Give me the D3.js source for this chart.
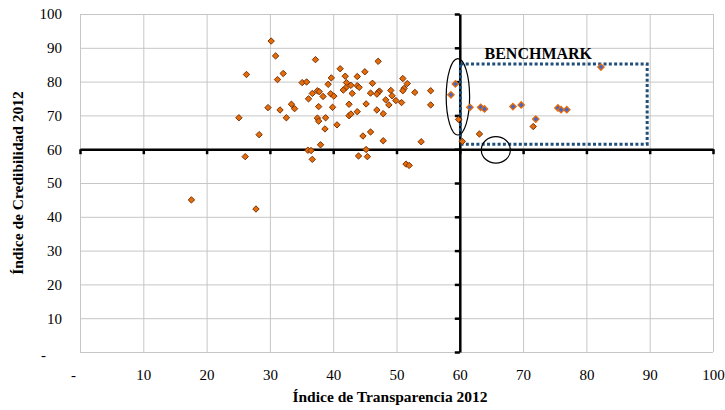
<!DOCTYPE html>
<html>
<head>
<meta charset="utf-8">
<script src="https://cdn.jsdelivr.net/npm/d3@7"></script>
<style>
  body { margin: 0; background: #fff; }
  text { font-family: "Liberation Serif", "DejaVu Serif", serif; fill: #000; }
  .grid line { stroke: #c6c6c6; stroke-width: 1; }
  .grid path { display: none; }
</style>
</head>
<body>
<div id="chart"></div>
<script>
// Indice de Transparencia (x) / Indice de Credibilidad (y), 2012
var transp = [30.2, 30.9, 26.3, 32.1, 31.2, 35.1, 35.8, 36.1, 33.4, 33.9, 29.7, 31.6, 32.6, 25.1, 28.3, 26.1, 36.0, 17.6, 27.8,
  37.2, 47.1, 41.1, 45.0, 41.9, 43.8, 39.7, 51.0, 42.1, 39.2, 42.8, 43.8, 44.1, 46.2, 51.7, 42.0, 41.6, 51.2, 51.0, 49.1,
  55.4, 47.3, 47.1, 46.9, 37.5, 37.8, 36.7, 43.0, 45.9, 52.9, 39.6, 40.1, 38.4, 49.3, 48.3, 49.9, 50.8, 55.4, 42.5, 45.2,
  48.8, 37.7, 39.9, 46.9, 43.8, 42.5, 42.8, 47.9, 37.5, 37.7, 38.8, 40.6, 38.7, 45.9, 44.7, 47.9, 53.9, 38.0, 36.5, 45.2,
  44.0, 45.4, 36.7, 51.5, 52.0, 59.8, 60.4, 63.1, 71.6];
var credib = [92.0, 87.6, 82.1, 82.4, 80.6, 79.7, 79.9, 74.9, 73.3, 72.0, 72.3, 71.6, 69.3, 69.3, 64.3, 57.8, 59.7, 45.0, 42.3,
  86.5, 86.0, 83.8, 82.9, 81.6, 81.5, 81.1, 80.9, 79.7, 79.2, 78.9, 78.8, 78.3, 79.5, 79.4, 78.2, 77.5, 78.0, 77.3, 77.4,
  77.3, 77.2, 76.8, 76.3, 77.3, 77.0, 76.5, 76.5, 76.6, 76.8, 76.4, 75.7, 75.6, 75.8, 74.6, 74.4, 73.8, 73.1, 73.3, 73.4,
  73.1, 72.6, 72.4, 71.6, 71.1, 69.9, 70.4, 70.5, 69.2, 68.3, 69.3, 67.2, 66.0, 65.1, 63.9, 62.5, 62.2, 61.3, 59.6, 59.9,
  58.0, 57.8, 57.0, 55.6, 55.2, 68.8, 62.3, 64.5, 66.7];

// benchmark group
var benchTransp = [59.3, 58.6, 61.6, 63.3, 63.9, 68.4, 69.7, 72.0, 75.5, 76.0, 76.9, 82.3];
var benchCredib = [79.3, 76.1, 72.4, 72.4, 71.9, 72.6, 73.1, 68.9, 72.2, 71.7, 71.7, 84.3];

var ticks = [0, 10, 20, 30, 40, 50, 60, 70, 80, 90, 100];
var benchBox = [60.1, 61.5, 89.6, 85.2];   // x0, y0, x1, y1
var ovals = [[59.7, 75.5, 1.85, 11.3], [65.7, 59.8, 2.3, 3.9]];  // cx, cy, rx, ry

var svgWidth = 725, svgHeight = 410,
    margin = { top: 14, right: 12, bottom: 58, left: 80 },
    width = svgWidth - margin.left - margin.right,
    height = svgHeight - margin.top - margin.bottom;

var svg = d3.select("#chart").append("svg")
    .attr("width", svgWidth)
    .attr("height", svgHeight)
    .append("g")
    .attr("transform", "translate(" + margin.left + "," + margin.top + ")");

var x = d3.scaleLinear().domain([0, 100]).range([0, width]);
var y = d3.scaleLinear().domain([0, 100]).range([height, 0]);
var fmt = function(d) { return d === 0 ? "-" : d; };

// gridlines
svg.append("g").attr("class", "grid")
    .attr("transform", "translate(0," + height + ")")
    .call(d3.axisBottom(x).tickValues(ticks).tickSize(-height).tickFormat(""));
svg.append("g").attr("class", "grid")
    .call(d3.axisLeft(y).tickValues(ticks).tickSize(-width).tickFormat(""));

// tick labels along the plot edges
var xl = svg.append("g")
    .attr("transform", "translate(0," + height + ")")
    .call(d3.axisBottom(x).tickValues(ticks).tickSize(0).tickPadding(17).tickFormat(fmt));
xl.select(".domain").remove();
xl.selectAll("text").attr("font-size", 15).style("font-family", "Liberation Serif")
    .attr("dx", function(d) { return d === 0 ? -7 : 0; });

var yl = svg.append("g")
    .call(d3.axisLeft(y).tickValues(ticks).tickSize(0).tickPadding(18).tickFormat(fmt));
yl.select(".domain").remove();
yl.selectAll("text").attr("font-size", 15).style("font-family", "Liberation Serif")
    .attr("dx", function(d) { return d === 0 ? -16 : 0; })
    .attr("dy", function(d) { return d === 0 ? "0.5em" : "0.32em"; });

// crossing axes at 60 / 60
var ax = svg.append("g")
    .attr("transform", "translate(0," + y(60) + ")")
    .call(d3.axisBottom(x).tickValues(ticks).tickSizeInner(5).tickSizeOuter(0).tickFormat(""));
var ay = svg.append("g")
    .attr("transform", "translate(" + x(60) + ",0)")
    .call(d3.axisLeft(y).tickValues(ticks).tickSizeInner(5).tickSizeOuter(0).tickFormat(""));
[ax, ay].forEach(function(g) {
    g.select(".domain").attr("stroke", "#000").attr("stroke-width", 2.5);
    g.selectAll(".tick line").attr("stroke", "#000").attr("stroke-width", 2.5);
});

// benchmark box
svg.append("rect")
    .attr("x", x(benchBox[0]))
    .attr("y", y(benchBox[3]))
    .attr("width", x(benchBox[2]) - x(benchBox[0]))
    .attr("height", y(benchBox[1]) - y(benchBox[3]))
    .attr("fill", "none")
    .attr("stroke", "#1f4e79")
    .attr("stroke-width", 3)
    .attr("stroke-dasharray", "3 2.3");

svg.append("text")
    .attr("x", x(72.4))
    .attr("y", y(86.6))
    .attr("text-anchor", "middle")
    .attr("font-size", 16)
    .attr("font-weight", "bold")
    .text("BENCHMARK");

svg.selectAll(".oval")
    .data(ovals)
    .enter().append("ellipse")
    .attr("cx", function(d) { return x(d[0]); })
    .attr("cy", function(d) { return y(d[1]); })
    .attr("rx", function(d) { return x(d[2]) - x(0); })
    .attr("ry", function(d) { return y(0) - y(d[3]); })
    .attr("fill", "none")
    .attr("stroke", "#000")
    .attr("stroke-width", 1.2);

// points
var diamond = d3.symbol().type(d3.symbolDiamond2).size(26);
var pts = transp.map(function(v, i) { return [v, credib[i]]; });
var bpts = benchTransp.map(function(v, i) { return [v, benchCredib[i]]; });

svg.append("g").selectAll("path")
    .data(pts)
    .enter().append("path")
    .attr("d", diamond)
    .attr("transform", function(d) { return "translate(" + x(d[0]) + "," + y(d[1]) + ")"; })
    .attr("fill", "#e46c0a")
    .attr("stroke", "#7a3204")
    .attr("stroke-width", 1);

svg.append("g").selectAll("path")
    .data(bpts)
    .enter().append("path")
    .attr("d", diamond)
    .attr("transform", function(d) { return "translate(" + x(d[0]) + "," + y(d[1]) + ")"; })
    .attr("fill", "#4466cc")
    .attr("stroke", "#e46c0a")
    .attr("stroke-width", 1.3);

// axis titles
svg.append("text")
    .attr("x", 390 - margin.left)
    .attr("y", height + 50)
    .attr("text-anchor", "middle")
    .attr("font-size", 15.5)
    .attr("font-weight", "bold")
    .text("Índice de Transparencia 2012");

svg.append("text")
    .attr("transform", "rotate(-90)")
    .attr("x", -(183 - margin.top))
    .attr("y", -57)
    .attr("text-anchor", "middle")
    .attr("font-size", 15.5)
    .attr("font-weight", "bold")
    .text("Índice de Credibilidad 2012");
</script>
</body>
</html>
